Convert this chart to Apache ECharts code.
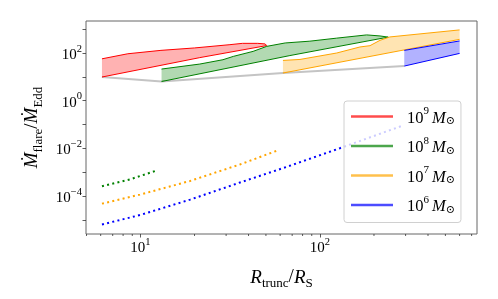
<!DOCTYPE html>
<html>
<head>
<meta charset="utf-8">
<script src="https://cdn.jsdelivr.net/npm/echarts@6/dist/echarts.min.js"></script>
<style>html,body{margin:0;padding:0;background:#fff}#c{width:498px;height:299px}</style>
</head>
<body>
<div id="c"></div>
<script>
// ---- data (R_trunc/R_S, Mdot_flare/Mdot_Edd) ----
const massNames = ['m9', 'm8', 'm7', 'm6'];
const massExp = ['9', '8', '7', '6'];
const massColors = ['#ff0000', '#008000', '#ffa500', '#0000ff'];

const redUpper = [[6.1, 57], [8.5, 93], [13, 129], [20, 163], [31.5, 224], [37, 254], [45, 254], [49.5, 240], [50.5, 205]];
const redLower = [[6.1, 9.8], [21.4, 64], [50.5, 205]];
const greenUpper = [[13.1, 21.2], [21.4, 34.4], [28.8, 52.2], [32.9, 72], [42.4, 117], [50.5, 190], [64, 264], [87.9, 314], [124, 421], [182, 574], [216, 520], [240, 464]];
const greenLower = [[13.1, 6.36], [68, 78], [240, 464]];
const orangeUpper = [[62.2, 48.8], [77.4, 53.7], [124, 100], [167, 179], [190, 203], [216, 340], [245, 472], [600, 931]];
const orangeLower = [[62.2, 14.4], [600, 374]];
const blueUpper = [[295, 128.7], [600, 321]];
const blueLower = [[295, 28.3], [600, 96.3]];

const greyLine = [[6.1, 9.8], [13.1, 6.36], [62.2, 14.4], [295, 28.3]];

const greenDotted = [[6.1, 2.56e-4], [8.75, 5.0e-4], [12.3, 1.17e-3]];
const orangeDotted = [[6.1, 4.77e-5], [9.93, 1.14e-4], [18.9, 4.28e-4], [35.8, 2.10e-3], [57.4, 7.87e-3]];
const blueDotted = [[6.1, 6.4e-6], [9.93, 1.58e-5], [18.9, 7.03e-5], [35.8, 3.66e-4], [65.2, 1.66e-3], [129, 1.01e-2], [285, 8.63e-2]];

const xMinorTicks = [5, 6, 7, 8, 9, 20, 30, 40, 50, 60, 70, 80, 90, 200, 300, 400, 500, 600, 700];
const xLabelExps = [1, 2];
const yLabelExps = [2, 0, -2, -4];

const xMin = 4.97, xMax = 750, yMin = 2.54e-6, yMax = 2203;

// ---- build ----
const uppers = [redUpper, greenUpper, orangeUpper, blueUpper];
const lowers = [redLower, greenLower, orangeLower, blueLower];
const dotted = [null, greenDotted, orangeDotted, blueDotted];

function rgba(hex, a) {
  const r = parseInt(hex.slice(1, 3), 16), g = parseInt(hex.slice(3, 5), 16), b = parseInt(hex.slice(5, 7), 16);
  return 'rgba(' + r + ',' + g + ',' + b + ',' + a + ')';
}
const serif = '"Liberation Serif", "DejaVu Serif", serif';

function expLabel(v, allowed) {
  const e = Math.log10(v);
  const r = Math.round(e);
  if (Math.abs(e - r) > 1e-6 || allowed.indexOf(r) < 0) return '';
  return '{b|10}{s|' + (r < 0 ? '\u2212' + (-r) : r) + '}';
}
const tickRich = {
  b: { fontFamily: serif, fontSize: 15, lineHeight: 19, color: '#000', verticalAlign: 'bottom' },
  s: { fontFamily: serif, fontSize: 10.5, lineHeight: 10, color: '#000', verticalAlign: 'top' }
};
const titleRich = {
  i: { fontFamily: serif, fontStyle: 'italic', fontSize: 19, lineHeight: 22, color: '#000', verticalAlign: 'top' },
  n: { fontFamily: serif, fontSize: 19, lineHeight: 22, color: '#000', verticalAlign: 'top' },
  sub: { fontFamily: serif, fontSize: 13, lineHeight: 13, color: '#000', verticalAlign: 'bottom' }
};

const series = [];
series.push({
  type: 'line', data: greyLine, showSymbol: false, silent: true, z: 1,
  lineStyle: { color: '#c4c4c4', width: 2 }
});
for (let k = 0; k < 4; k++) {
  const poly = uppers[k].concat(lowers[k].slice().reverse());
  const fill = rgba(massColors[k], 0.3);
  series.push({
    name: massNames[k], type: 'custom', data: poly, silent: true, z: 2,
    renderItem: function (params, api) {
      if (params.dataIndex !== 0) return;
      const pts = poly.map(p => api.coord(p));
      return { type: 'polygon', shape: { points: pts }, style: { fill: fill } };
    }
  });
  [uppers[k], lowers[k]].forEach(arr => series.push({
    type: 'line', data: arr, showSymbol: false, silent: true, z: 3,
    lineStyle: { color: massColors[k], width: 1 }
  }));
  if (dotted[k]) series.push({
    type: 'line', data: dotted[k], showSymbol: false, silent: true, z: 3,
    lineStyle: { color: massColors[k], width: 2, type: [2, 3.3], cap: 'butt' }
  });
}
series.push({
  type: 'custom', silent: true, z: 5, clip: false,
  data: xMinorTicks.map(v => [v, yMin]),
  renderItem: function (params, api) {
    const p = api.coord([api.value(0), api.value(1)]);
    return { type: 'line', shape: { x1: p[0], y1: p[1], x2: p[0], y2: p[1] + 2 }, style: { stroke: '#333', lineWidth: 0.8 } };
  }
});

const option = {
  animation: false,
  backgroundColor: '#fff',
  grid: { left: 86, right: 21, top: 21, bottom: 65, show: true, borderColor: '#666', borderWidth: 1, containLabel: false, outerBoundsMode: 'none' },
  xAxis: {
    type: 'log', logBase: 10, min: xMin, max: xMax,
    axisLine: { show: false }, splitLine: { show: false },
    axisTick: { length: 3.5, lineStyle: { color: '#333', width: 0.8 } },
    axisLabel: { margin: 3, formatter: v => expLabel(v, xLabelExps), rich: tickRich, showMinLabel: false, showMaxLabel: false },
    name: '{i|R}{sub|trunc}{n|/}{i|R}{sub|S}', nameLocation: 'middle', nameGap: 34,
    nameTextStyle: { rich: titleRich }
  },
  yAxis: {
    type: 'log', logBase: 10, min: yMin, max: yMax,
    axisLine: { show: false }, splitLine: { show: false },
    axisTick: { length: 3.5, lineStyle: { color: '#333', width: 0.8 } },
    axisLabel: { margin: 4, formatter: v => expLabel(v, yLabelExps), rich: tickRich, showMinLabel: false, showMaxLabel: false },
    name: '{i|\u1E40}{sub|flare}{n|/}{i|\u1E40}{sub|Edd}', nameLocation: 'middle', nameGap: 38, nameRotate: 90,
    nameTextStyle: { rich: titleRich }
  },
  legend: {
    orient: 'vertical', left: 344, top: 101,
    padding: [5, 6, 7, 7], itemGap: 8.5, itemWidth: 42, itemHeight: 2.5,
    backgroundColor: 'rgba(255,255,255,0.8)', borderColor: '#d0d0d0', borderWidth: 1, borderRadius: 3,
    data: massNames.map((n, k) => ({ name: n, icon: 'rect', itemStyle: { color: rgba(massColors[k], 0.7) } })),
    formatter: function (name) {
      const k = massNames.indexOf(name);
      return '{sp|}{n|10}{s|' + massExp[k] + '}{i|M}{o|\u2299}';
    },
    textStyle: { rich: {
      sp: { width: 9 },
      n: { fontFamily: serif, fontSize: 16.5, lineHeight: 21, color: '#000', verticalAlign: 'bottom' },
      s: { fontFamily: serif, fontSize: 11, lineHeight: 11, color: '#000', verticalAlign: 'top', padding: [0, 3, 0, 0] },
      i: { fontFamily: serif, fontStyle: 'italic', fontSize: 16.5, lineHeight: 21, color: '#000', verticalAlign: 'bottom' },
      o: { fontFamily: serif, fontSize: 11, lineHeight: 10, color: '#000', verticalAlign: 'bottom' }
    } }
  },
  series: series
};
const chart = echarts.init(document.getElementById('c'), null, { renderer: 'canvas' });
chart.setOption(option);
</script>
</body>
</html>
